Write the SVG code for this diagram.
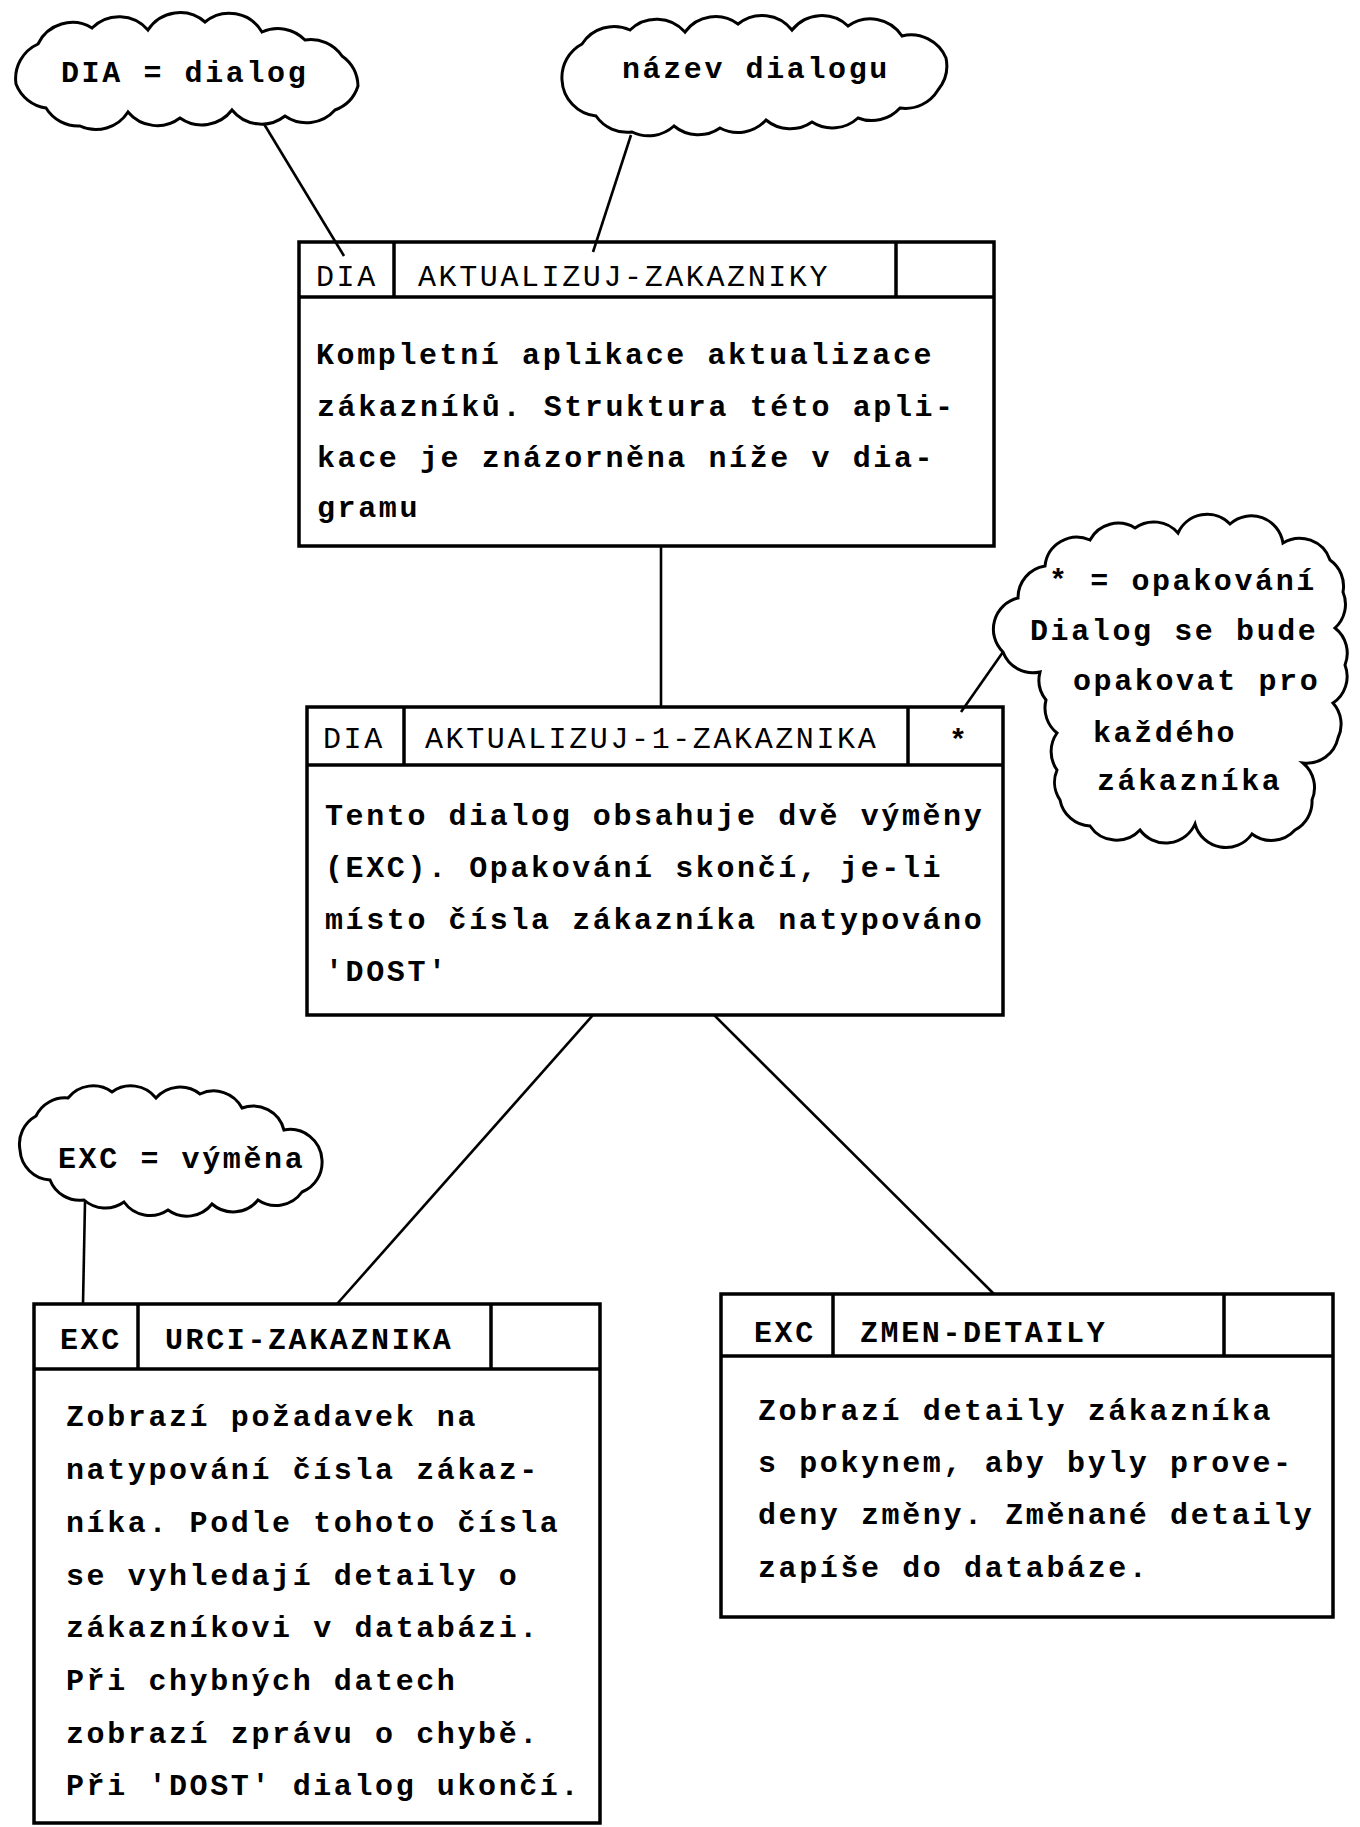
<svg xmlns="http://www.w3.org/2000/svg" width="1360" height="1827" viewBox="0 0 1360 1827">
<style>
.bg{fill:#fff}
.box{fill:none;stroke:#000;stroke-width:3.5}
.cl{fill:#fff;stroke:#000;stroke-width:3;stroke-linejoin:miter}
.cn{stroke:#000;stroke-width:2.6;fill:none}
.t{font-family:"Liberation Mono","DejaVu Sans Mono",monospace;font-size:30px;letter-spacing:2.6px;fill:#000;font-weight:bold}
.h{font-weight:normal}
</style>
<rect class="bg" x="0" y="0" width="1360" height="1827"/>
<g id="connectors">
<line class="cn" x1="261" y1="119" x2="344" y2="256"/>
<line class="cn" x1="631" y1="135" x2="593" y2="252"/>
<line class="cn" x1="661" y1="546" x2="661" y2="707"/>
<line class="cn" x1="1003" y1="652" x2="961" y2="712"/>
<line class="cn" x1="593" y1="1015" x2="337" y2="1304"/>
<line class="cn" x1="714" y1="1015" x2="994" y2="1294"/>
<line class="cn" x1="85" y1="1202" x2="83" y2="1304"/>
</g>
<g id="cloud-dia">
<path class="cl" d="M16 84 A38 38 0 0 1 38 44 A38 38 0 0 1 92 28 A38 38 0 0 1 148 30 A38 38 0 0 1 205 22 A38 38 0 0 1 262 32 A38 38 0 0 1 305 40 A38 38 0 0 1 342 56 A38 38 0 0 1 358 86 A38 38 0 0 1 335 110 A38 38 0 0 1 285 116 A38 38 0 0 1 232 110 A38 38 0 0 1 180 118 A38 38 0 0 1 128 112 A38 38 0 0 1 80 126 A38 38 0 0 1 46 108 A38 38 0 0 1 16 84 Z"/>
<text class="t" x="61" y="82">DIA = dialog</text>
</g>
<g id="cloud-nazev">
<path class="cl" d="M562 80 A38 38 0 0 1 582 44 A38 38 0 0 1 630 30 A38 38 0 0 1 685 32 A38 38 0 0 1 738 24 A38 38 0 0 1 792 30 A38 38 0 0 1 848 26 A38 38 0 0 1 902 36 A38 38 0 0 1 946 58 A38 38 0 0 1 938 90 A38 38 0 0 1 900 108 A38 38 0 0 1 858 118 A38 38 0 0 1 812 122 A38 38 0 0 1 766 120 A38 38 0 0 1 720 128 A38 38 0 0 1 674 126 A38 38 0 0 1 632 132 A38 38 0 0 1 596 116 A38 38 0 0 1 562 80 Z"/>
<text class="t" x="622" y="78">název dialogu</text>
</g>
<g id="cloud-opakovani">
<path class="cl" d="M1003 652 A32 32 0 0 1 1018 598 A32 32 0 0 1 1045 566 A32 32 0 0 1 1090 540 A32 32 0 0 1 1135 528 A32 32 0 0 1 1178 533 A32 32 0 0 1 1230 524 A32 32 0 0 1 1283 543 A32 32 0 0 1 1330 560 A32 32 0 0 1 1343 592 A32 32 0 0 1 1335 628 A32 32 0 0 1 1345 665 A32 32 0 0 1 1333 703 A32 32 0 0 1 1338 738 A32 32 0 0 1 1303 763 A32 32 0 0 1 1312 800 A32 32 0 0 1 1295 830 A32 32 0 0 1 1252 834 A32 32 0 0 1 1195 824 A32 32 0 0 1 1140 830 A32 32 0 0 1 1090 826 A32 32 0 0 1 1060 800 A32 32 0 0 1 1057 770 A32 32 0 0 1 1057 733 A32 32 0 0 1 1046 700 A32 32 0 0 1 1040 672 A32 32 0 0 1 1003 652 Z"/>
<text class="t" x="1049" y="590">* = opakování</text>
<text class="t" x="1030" y="640">Dialog se bude</text>
<text class="t" x="1073" y="690">opakovat pro</text>
<text class="t" x="1093" y="742">každého</text>
<text class="t" x="1097" y="790">zákazníka</text>
</g>
<g id="cloud-exc">
<path class="cl" d="M20 1150 A32 32 0 0 1 36 1116 A32 32 0 0 1 68 1098 A32 32 0 0 1 112 1092 A32 32 0 0 1 156 1098 A32 32 0 0 1 200 1094 A32 32 0 0 1 242 1108 A32 32 0 0 1 284 1130 A32 32 0 0 1 322 1160 A32 32 0 0 1 302 1192 A32 32 0 0 1 258 1200 A32 32 0 0 1 212 1204 A32 32 0 0 1 168 1210 A32 32 0 0 1 124 1202 A32 32 0 0 1 84 1200 A32 32 0 0 1 50 1180 A32 32 0 0 1 20 1150 Z"/>
<text class="t" x="58" y="1168">EXC = výměna</text>
</g>
<g id="node-aktualizuj-zakazniky">
<rect class="box" x="299" y="242" width="695" height="304"/>
<line class="box" x1="299" y1="297" x2="994" y2="297"/>
<line class="box" x1="394" y1="242" x2="394" y2="297"/>
<line class="box" x1="896" y1="242" x2="896" y2="297"/>
<text class="t h" x="316" y="286">DIA</text>
<text class="t h" x="418" y="286">AKTUALIZUJ-ZAKAZNIKY</text>
<text class="t" x="316" y="364">Kompletní aplikace aktualizace</text>
<text class="t" x="317" y="416">zákazníků. Struktura této apli-</text>
<text class="t" x="317" y="467">kace je znázorněna níže v dia-</text>
<text class="t" x="317" y="517">gramu</text>
</g>
<g id="node-aktualizuj-1-zakaznika">
<rect class="box" x="307" y="707" width="696" height="308"/>
<line class="box" x1="307" y1="765" x2="1003" y2="765"/>
<line class="box" x1="404" y1="707" x2="404" y2="765"/>
<line class="box" x1="908" y1="707" x2="908" y2="765"/>
<text class="t h" x="323" y="748">DIA</text>
<text class="t h" x="425" y="748">AKTUALIZUJ-1-ZAKAZNIKA</text>
<text class="t" x="949" y="750">*</text>
<text class="t" x="325" y="825">Tento dialog obsahuje dvě výměny</text>
<text class="t" x="325" y="877">(EXC). Opakování skončí, je-li</text>
<text class="t" x="325" y="929">místo čísla zákazníka natypováno</text>
<text class="t" x="325" y="981">'DOST'</text>
</g>
<g id="node-urci-zakaznika">
<rect class="box" x="34" y="1304" width="566" height="519"/>
<line class="box" x1="34" y1="1369" x2="600" y2="1369"/>
<line class="box" x1="138" y1="1304" x2="138" y2="1369"/>
<line class="box" x1="491" y1="1304" x2="491" y2="1369"/>
<text class="t" x="60" y="1349">EXC</text>
<text class="t" x="165" y="1349">URCI-ZAKAZNIKA</text>
<text class="t" x="66" y="1426">Zobrazí požadavek na</text>
<text class="t" x="66" y="1479">natypování čísla zákaz-</text>
<text class="t" x="66" y="1532">níka. Podle tohoto čísla</text>
<text class="t" x="66" y="1585">se vyhledají detaily o</text>
<text class="t" x="66" y="1637">zákazníkovi v databázi.</text>
<text class="t" x="66" y="1690">Při chybných datech</text>
<text class="t" x="66" y="1743">zobrazí zprávu o chybě.</text>
<text class="t" x="66" y="1795">Při 'DOST' dialog ukončí.</text>
</g>
<g id="node-zmen-detaily">
<rect class="box" x="721" y="1294" width="612" height="323"/>
<line class="box" x1="721" y1="1356" x2="1333" y2="1356"/>
<line class="box" x1="833" y1="1294" x2="833" y2="1356"/>
<line class="box" x1="1224" y1="1294" x2="1224" y2="1356"/>
<text class="t" x="754" y="1342">EXC</text>
<text class="t" x="860" y="1342">ZMEN-DETAILY</text>
<text class="t" x="758" y="1420">Zobrazí detaily zákazníka</text>
<text class="t" x="758" y="1472">s pokynem, aby byly prove-</text>
<text class="t" x="758" y="1524">deny změny. Změnané detaily</text>
<text class="t" x="758" y="1577">zapíše do databáze.</text>
</g>
</svg>
